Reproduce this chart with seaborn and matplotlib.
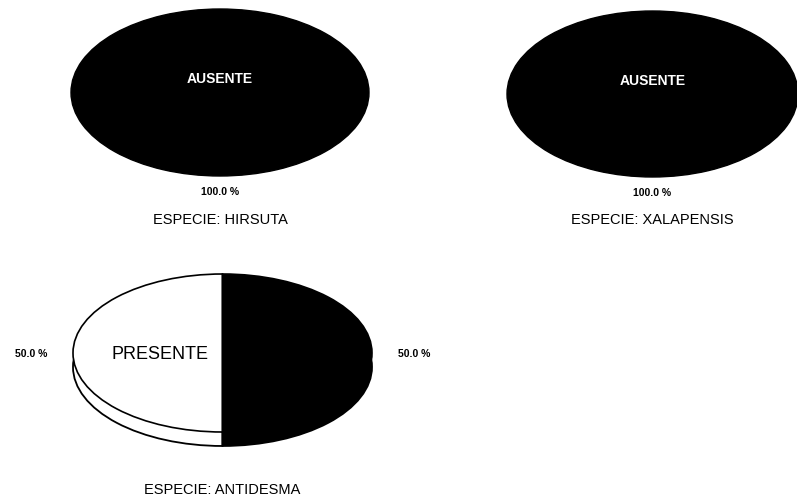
import matplotlib
matplotlib.use("Agg")
import matplotlib.pyplot as plt
import seaborn as sns

sns.set_style("white")
plt.rcParams['font.family'] = ['Liberation Sans', 'DejaVu Sans']
plt.rcParams['text.color'] = 'black'

# ---- data ----
categories = ["PRESENTE", "AUSENTE"]
hirsuta = [0.0, 100.0]
xalapensis = [0.0, 100.0]
antidesma = [50.0, 50.0]
titles = ["ESPECIE: HIRSUTA", "ESPECIE: XALAPENSIS", "ESPECIE: ANTIDESMA"]
slice_colors = {"PRESENTE": "#ffffff", "AUSENTE": "#000000"}
label_colors = {"PRESENTE": "#000000", "AUSENTE": "#ffffff"}

W, H = 797, 502
fig = plt.figure(figsize=(W / 100, H / 100), dpi=100)


def add_ax(x0, y0, x1, y1):
    return fig.add_axes([x0 / W, 1 - y1 / H, (x1 - x0) / W, (y1 - y0) / H])


def finish(ax):
    ax.set_xlim(-1, 1)
    ax.set_ylim(-1, 1)
    ax.set_aspect('auto')
    ax.axis('off')


def full_pie(ax, values, title):
    cats = [c for c, v in zip(categories, values) if v > 0]
    vals = [v for v in values if v > 0]
    total = sum(values)
    wedges, texts = ax.pie(vals, labels=cats, colors=[slice_colors[c] for c in cats],
                           startangle=-90, labeldistance=0.17,
                           wedgeprops=dict(edgecolor='black', linewidth=1))
    for t, c in zip(texts, cats):
        t.set_color(label_colors[c])
        t.set_fontsize(10)
        t.set_fontweight('bold')
        t.set_ha('center')
    for c, v in zip(cats, vals):
        ax.text(0, -1.18, f"{100 * v / total:.1f} %", ha='center', va='center',
                fontsize=7.5, fontweight='bold', color='black', clip_on=False)
    ax.text(0, -1.51, title, ha='center', va='center', fontsize=10.5,
            color='black', clip_on=False)
    finish(ax)


ax1 = add_ax(71, 10, 369, 177)
full_pie(ax1, hirsuta, titles[0])

ax2 = add_ax(507, 12, 798, 178)
full_pie(ax2, xalapensis, titles[1])

# third pie with 3D rim
ax3 = add_ax(73, 275, 372, 433)
cols = [slice_colors[c] for c in categories]
ax3.pie(antidesma, colors=cols, startangle=90, center=(0, -0.177),
        wedgeprops=dict(edgecolor='black', linewidth=1.3))
wedges, texts, autotexts = ax3.pie(
    antidesma, labels=categories, colors=cols, startangle=90,
    labeldistance=0.42, autopct=lambda p: f"{p:.1f} %", pctdistance=1.28,
    wedgeprops=dict(edgecolor='black', linewidth=1.2))
for t, c in zip(texts, categories):
    t.set_color('black')
    t.set_fontsize(13)
    t.set_ha('center')
for a in autotexts:
    a.set_color('black')
    a.set_fontsize(7.5)
    a.set_fontweight('bold')
ax3.text(0, -1.72, titles[2], ha='center', va='center', fontsize=10.5,
         color='black', clip_on=False)
finish(ax3)
for t in texts + autotexts:
    t.set_clip_on(False)

fig.savefig("out.png", dpi=100, facecolor='white')
